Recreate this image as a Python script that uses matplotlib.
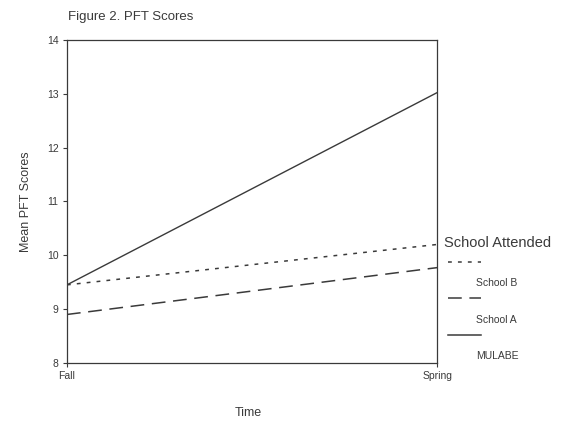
import matplotlib
matplotlib.use("Agg")
import matplotlib.pyplot as plt
from matplotlib.lines import Line2D

plt.rcParams['font.family'] = ['Liberation Sans', 'DejaVu Sans']

time_labels = ["Fall", "Spring"]
mulabe = [9.45, 13.02]
school_a = [8.9, 9.77]
school_b = [9.45, 10.2]
y_ticks = [8, 9, 10, 11, 12, 13, 14]

ink = '#3a3a3a'

fig = plt.figure(figsize=(5.82, 4.24), dpi=100)
ax = fig.add_axes([0.115, 0.144, 0.636, 0.762])

x = [0, 1]
ax.plot(x, mulabe, color=ink, lw=1.0, ls='-')
ax.plot(x, school_a, color=ink, lw=1.1, ls=(0, (9, 5)))
ax.plot(x, school_b, color=ink, lw=1.1, ls=(0, (2.5, 4)))

ax.set_xlim(0, 1)
ax.set_ylim(8, 14)
ax.set_xticks(x)
ax.set_xticklabels(time_labels)
ax.set_yticks(y_ticks)
ax.tick_params(axis='both', length=3, width=0.8, colors=ink, labelsize=7.5, pad=3)
for s in ax.spines.values():
    s.set_color(ink)
    s.set_linewidth(0.9)

ax.set_ylabel("Mean PFT Scores", fontsize=9, color=ink, labelpad=11)
fig.text(0.426, 0.026, "Time", fontsize=9, color=ink, ha='center', va='center')
fig.text(0.117, 0.96, "Figure 2. PFT Scores", fontsize=9.5, color=ink, ha='left', va='center')

# legend drawn by hand, like the scanned original
fig.text(0.763, 0.427, "School Attended", fontsize=10.5, color=ink, ha='left', va='center')
entries = [("School B", (0, (2.5, 4))), ("School A", (0, (9, 5))), ("MULABE", '-')]
y0 = 0.382
for i, (name, ls) in enumerate(entries):
    yl = y0 - i * 0.086
    fig.add_artist(Line2D([0.770, 0.827], [yl, yl], color=ink, lw=1.1, ls=ls,
                          transform=fig.transFigure))
    fig.text(0.818, yl - 0.05, name, fontsize=7.5, color=ink, ha='left', va='center')

fig.savefig("out.png", dpi=100)
